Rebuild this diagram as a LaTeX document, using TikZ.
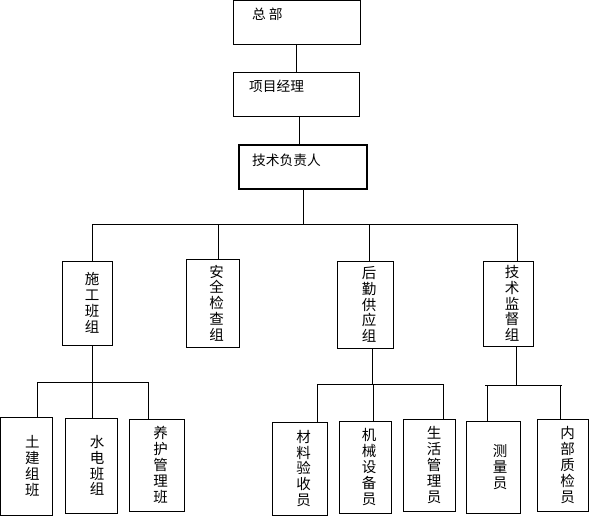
\documentclass[tikz,border=0pt]{standalone}
\usepackage{fontspec}
\newfontfamily\cjk{Noto Sans CJK SC}
\begin{document}
\begin{tikzpicture}[x=1pt,y=-1pt,
  box/.style={draw,line width=0.8pt,inner sep=0pt,outer sep=0pt},
  htext/.style={anchor=west,inner sep=0pt,font=\cjk\fontsize{13.7}{15}\selectfont},
  vtext/.style={align=center,inner sep=0pt,font=\cjk\fontsize{14.5}{15.8}\selectfont},
  wire/.style={line width=0.8pt}]
\useasboundingbox (0,0) rectangle (589,516);
% top chain
\node[box,minimum width=127pt,minimum height=43.5pt] (zb) at (296.5,22.25) {};
\node[htext] (zbt) at (252,14) {总 部};
\node[box,minimum width=126pt,minimum height=44pt] (xm) at (296,94) {};
\node[htext] (xmt) at (249,86) {项目经理};
\node[box,line width=1.8pt,minimum width=128pt,minimum height=44pt] (js) at (303,167) {};
\node[htext] (jst) at (252,160) {技术负责人};
% middle boxes
\node[box,minimum width=50pt,minimum height=84pt] (sg) at (87,303) {};
\node[vtext] (sgt) at ([xshift=5pt]sg.center) {施\\工\\班\\组};
\node[box,minimum width=53pt,minimum height=88pt] (aq) at (212.5,303) {};
\node[vtext] (aqt) at ([xshift=4pt]aq.center) {安\\全\\检\\查\\组};
\node[box,minimum width=56pt,minimum height=87pt] (hq) at (365,304.5) {};
\node[vtext] (hqt) at ([xshift=4pt]hq.center) {后\\勤\\供\\应\\组};
\node[box,minimum width=50pt,minimum height=85pt] (jd) at (508,303.5) {};
\node[vtext] (jdt) at ([xshift=4pt]jd.center) {技\\术\\监\\督\\组};
% bottom boxes
\node[box,minimum width=51.5pt,minimum height=98pt] (tj) at (26.25,466) {};
\node[vtext] (tjt) at ([xshift=6pt]tj.center) {土\\建\\组\\班};
\node[box,minimum width=52pt,minimum height=95pt] (sd) at (91,465.5) {};
\node[vtext] (sdt) at ([xshift=6pt]sd.center) {水\\电\\班\\组};
\node[box,minimum width=55pt,minimum height=92pt] (yh) at (156.5,465) {};
\node[vtext] (yht) at ([xshift=4pt]yh.center) {养\\护\\管\\理\\班};
\node[box,minimum width=55pt,minimum height=93pt] (cl) at (299.5,468.5) {};
\node[vtext] (clt) at ([xshift=4pt]cl.center) {材\\料\\验\\收\\员};
\node[box,minimum width=52pt,minimum height=92pt] (jx) at (365,467) {};
\node[vtext] (jxt) at ([xshift=4pt]jx.center) {机\\械\\设\\备\\员};
\node[box,minimum width=52pt,minimum height=92pt] (sh) at (429,465) {};
\node[vtext] (sht) at ([xshift=5pt]sh.center) {生\\活\\管\\理\\员};
\node[box,minimum width=54pt,minimum height=92pt] (cy) at (493,467) {};
\node[vtext] (cyt) at ([xshift=7pt]cy.center) {测\\量\\员};
\node[box,minimum width=51pt,minimum height=92pt] (nb) at (562.5,465) {};
\node[vtext] (nbt) at ([xshift=5pt]nb.center) {内\\部\\质\\检\\员};
% top connectors
\draw[wire] (zb.south) -- (zb.south |- xm.north);
\draw[wire] ([xshift=3pt]xm.south) -- ([xshift=3pt]xm.south |- js.north);
% main bus
\coordinate (b1) at (92,224);
\coordinate (b2) at (218,224);
\coordinate (b3) at (369,224);
\coordinate (b4) at (517,224);
\draw[wire] (js.south) -- (js.south |- b1);
\draw[wire] (b1) -- (b4);
\draw[wire] (b1) -- (b1 |- sg.north);
\draw[wire] (b2) -- (b2 |- aq.north);
\draw[wire] (b3) -- (b3 |- hq.north);
\draw[wire] (b4) -- (b4 |- jd.north);
% left sub-bus
\coordinate (s0) at (92,382);
\coordinate (s1) at (37,382);
\coordinate (s2) at (92,382);
\coordinate (s3) at (148,382);
\draw[wire] (s0 |- sg.south) -- (s0);
\draw[wire] (s1) -- (s3);
\draw[wire] (s1) -- (s1 |- tj.north);
\draw[wire] (s2) -- (s2 |- sd.north);
\draw[wire] (s3) -- (s3 |- yh.north);
% middle sub-bus
\coordinate (m0) at (372,384);
\coordinate (m1) at (317,384);
\coordinate (m2) at (373,384);
\coordinate (m3) at (443,384);
\draw[wire] (m0 |- hq.south) -- (m0);
\draw[wire] (m1) -- (m3);
\draw[wire] (m1) -- (m1 |- cl.north);
\draw[wire] (m2) -- (m2 |- jx.north);
\draw[wire] (m3) -- (m3 |- sh.north);
% right sub-bus
\coordinate (r0) at (516,385);
\coordinate (rL) at (485,385);
\coordinate (rR) at (562,385);
\coordinate (r1) at (487,385);
\coordinate (r2) at (560,385);
\draw[wire] (r0 |- jd.south) -- (r0);
\draw[wire] (rL) -- (rR);
\draw[wire] (r1) -- (r1 |- cy.north);
\draw[wire] (r2) -- (r2 |- nb.north);
\end{tikzpicture}
\end{document}
